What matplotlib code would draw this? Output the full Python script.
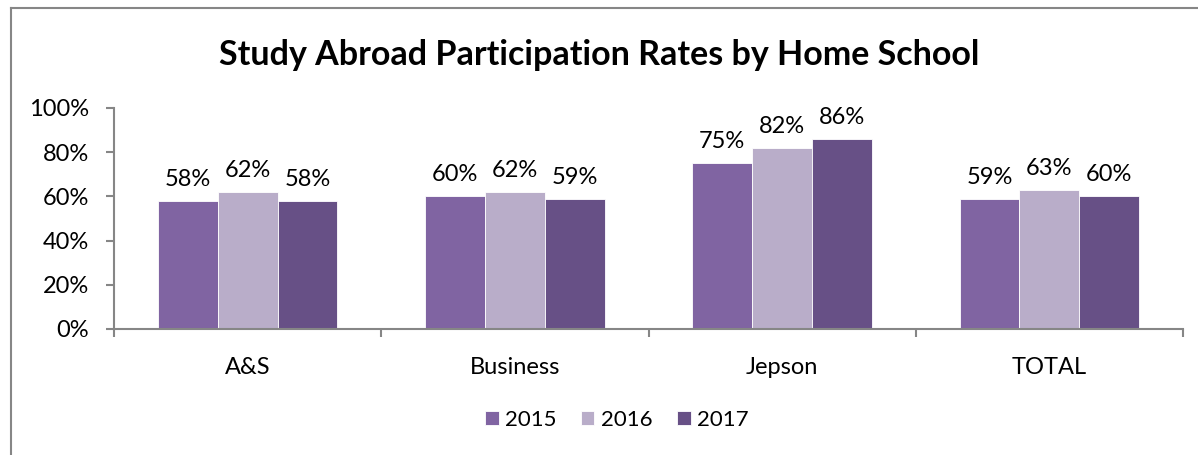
import numpy as np
import matplotlib.pyplot as plt
from matplotlib.lines import Line2D

categories = ["A&S", "Business", "Jepson", "TOTAL"]
years = ["2015", "2016", "2017"]
rates_2015 = [58, 60, 75, 59]
rates_2016 = [62, 62, 82, 63]
rates_2017 = [58, 59, 86, 60]
colors = ["#8064A2", "#B9ADC9", "#675086"]

plt.rcParams['font.family'] = ['Lato', 'DejaVu Sans']

fig = plt.figure(figsize=(11.98, 4.55), dpi=100)
ax = fig.add_axes([0.0952, 0.277, 0.8923, 0.4857])

# chart area border (only left/top visible in the crop)
grey = "#868686"
fig.add_artist(Line2D([11/1198, 11/1198], [0, 1 - 8/455], transform=fig.transFigure, color=grey, lw=1.5))
fig.add_artist(Line2D([11/1198, 1], [1 - 8/455, 1 - 8/455], transform=fig.transFigure, color=grey, lw=1.5))

x = np.arange(len(categories))
w = 0.224
series = [rates_2015, rates_2016, rates_2017]
for i, (vals, yr) in enumerate(zip(series, years)):
    bars = ax.bar(x + (i - 1) * w, vals, w, color=colors[i], label=yr,
                  edgecolor="white", linewidth=0.6)
    for b, v in zip(bars, vals):
        ax.text(b.get_x() + b.get_width() / 2, v + 5, f"{v}%", ha="center",
                va="bottom", fontsize=17)

ax.set_xlim(-0.5, len(categories) - 0.5)
ax.set_ylim(0, 100)
ax.set_yticks(np.arange(0, 101, 20))
ax.set_yticklabels([f"{t}%" for t in range(0, 101, 20)], fontsize=17)
ax.set_xticks(x)
ax.set_xticklabels(categories, fontsize=17)
ax.tick_params(axis="x", length=0, pad=20)
ax.set_xticks(np.arange(-0.5, len(categories)), minor=True)
ax.tick_params(axis="x", which="minor", length=6, color=grey, width=1.5)
ax.tick_params(axis="y", length=6, color=grey, width=1.5, pad=12)
for s in ["top", "right"]:
    ax.spines[s].set_visible(False)
for s in ["left", "bottom"]:
    ax.spines[s].set_color(grey)
    ax.spines[s].set_linewidth(1.5)

fig.text(0.5, 1 - 55/455, "Study Abroad Participation Rates by Home School",
         ha="center", va="center", fontsize=24.5, fontweight="bold")

fig.legend(loc="center", bbox_to_anchor=(617/1198, 1 - 420/455), ncol=3,
           frameon=False, fontsize=16, handlelength=0.6, handleheight=0.6,
           handletextpad=0.3, columnspacing=1.1)

fig.savefig("out.png", dpi=100)
